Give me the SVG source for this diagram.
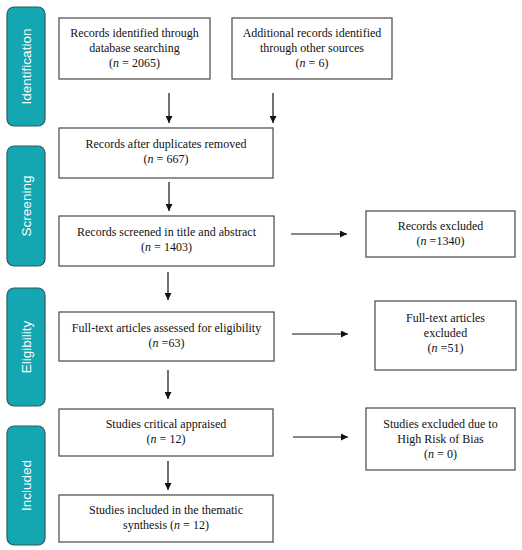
<svg xmlns="http://www.w3.org/2000/svg" width="522" height="550" viewBox="0 0 522 550">
<style>
.tab{fill:#14a6b1;stroke:#2c5c60;stroke-width:1.2}
.tt{fill:#ffffff;font-family:"Liberation Sans",Arial,sans-serif;font-size:13.5px;text-anchor:middle;dominant-baseline:central}
.box{fill:#ffffff;stroke:#555555;stroke-width:1.3}
.bt{fill:#111111;font-family:"Liberation Serif","Times New Roman",serif;font-size:12px;text-anchor:middle}
.ln{stroke:#111111;stroke-width:1.2;fill:none;marker-end:url(#ah)}
</style>
<defs>
<marker id="ah" viewBox="0 0 10 10" refX="10" refY="5" markerWidth="7" markerHeight="7" markerUnits="userSpaceOnUse" orient="auto">
<path d="M0,0 L10,5 L0,10 z" fill="#111111"/>
</marker>
</defs>
<rect width="522" height="550" fill="#ffffff"/>
<g id="tab-identification"><rect class="tab" x="7" y="7" width="38" height="119" rx="7"/><text class="tt" transform="translate(26,66.5) rotate(-90)">Identification</text></g>
<g id="tab-screening"><rect class="tab" x="7" y="146" width="38" height="120" rx="7"/><text class="tt" transform="translate(26,206) rotate(-90)">Screening</text></g>
<g id="tab-eligibility"><rect class="tab" x="7" y="288" width="38" height="118" rx="7"/><text class="tt" transform="translate(26,347) rotate(-90)">Eligibility</text></g>
<g id="tab-included"><rect class="tab" x="7" y="426" width="38" height="119" rx="7"/><text class="tt" transform="translate(26,485.5) rotate(-90)">Included</text></g>

<g id="n-db"><rect class="box" x="59" y="18" width="151" height="61"/>
<text class="bt" x="134.5" y="37">Records identified through</text>
<text class="bt" x="134.5" y="52">database searching</text>
<text class="bt" x="134.5" y="67">(<tspan font-style="italic">n</tspan> = 2065)</text></g>
<g id="n-other"><rect class="box" x="232" y="18" width="160" height="61"/>
<text class="bt" x="312" y="37">Additional records identified</text>
<text class="bt" x="312" y="52">through other sources</text>
<text class="bt" x="312" y="67">(<tspan font-style="italic">n</tspan> = 6)</text></g>
<g id="n-dup"><rect class="box" x="59" y="128" width="214" height="50"/>
<text class="bt" x="166" y="148">Records after duplicates removed</text>
<text class="bt" x="166" y="163">(<tspan font-style="italic">n</tspan> = 667)</text></g>
<g id="n-screen"><rect class="box" x="59" y="216" width="215" height="50"/>
<text class="bt" x="166.5" y="236">Records screened in title and abstract</text>
<text class="bt" x="166.5" y="251">(<tspan font-style="italic">n</tspan> = 1403)</text></g>
<g id="n-excl1"><rect class="box" x="366" y="211" width="149" height="46"/>
<text class="bt" x="440.5" y="230">Records excluded</text>
<text class="bt" x="440.5" y="245">(<tspan font-style="italic">n</tspan> =1340)</text></g>
<g id="n-full"><rect class="box" x="59" y="312" width="215" height="49"/>
<text class="bt" x="166.5" y="332">Full-text articles assessed for eligibility</text>
<text class="bt" x="166.5" y="347">(<tspan font-style="italic">n</tspan> =63)</text></g>
<g id="n-excl2"><rect class="box" x="375" y="301" width="141" height="69"/>
<text class="bt" x="445.5" y="322">Full-text articles</text>
<text class="bt" x="445.5" y="337">excluded</text>
<text class="bt" x="445.5" y="352">(<tspan font-style="italic">n</tspan> =51)</text></g>
<g id="n-crit"><rect class="box" x="59" y="409" width="214" height="47"/>
<text class="bt" x="166" y="428">Studies critical appraised</text>
<text class="bt" x="166" y="443">(<tspan font-style="italic">n</tspan> = 12)</text></g>
<g id="n-excl3"><rect class="box" x="366" y="408" width="149" height="62"/>
<text class="bt" x="440.5" y="428">Studies excluded due to</text>
<text class="bt" x="440.5" y="443">High Risk of Bias</text>
<text class="bt" x="440.5" y="458">(<tspan font-style="italic">n</tspan> = 0)</text></g>
<g id="n-incl"><rect class="box" x="59" y="495" width="214" height="47"/>
<text class="bt" x="166" y="514">Studies included in the thematic</text>
<text class="bt" x="166" y="529">synthesis (<tspan font-style="italic">n</tspan> = 12)</text></g>

<g id="connectors">
<line class="ln" x1="169" y1="93" x2="169" y2="123"/>
<line class="ln" x1="273" y1="93" x2="273" y2="123"/>
<line class="ln" x1="169" y1="182" x2="169" y2="211"/>
<line class="ln" x1="168" y1="272" x2="168" y2="300"/>
<line class="ln" x1="291" y1="234" x2="347" y2="234"/>
<line class="ln" x1="292" y1="334" x2="348" y2="334"/>
<line class="ln" x1="168" y1="370" x2="168" y2="399"/>
<line class="ln" x1="293" y1="437" x2="348" y2="437"/>
<line class="ln" x1="168" y1="461" x2="168" y2="490"/>
</g>
</svg>
